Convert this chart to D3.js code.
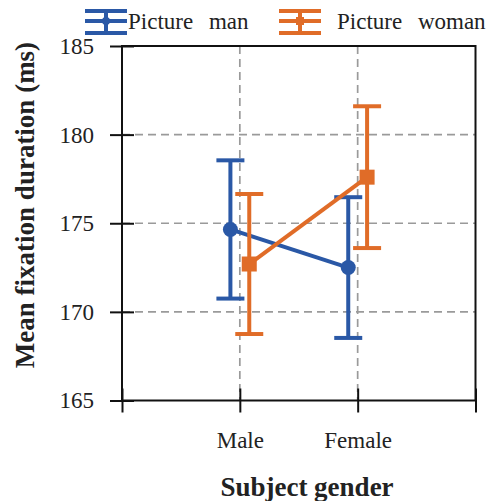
<!DOCTYPE html>
<html>
<head>
<meta charset="utf-8">
<script src="https://cdn.jsdelivr.net/npm/d3@7"></script>
<style>
  body { margin: 0; background: #fff; }
  text { font-family: "Liberation Serif", "DejaVu Serif", serif; fill: #222; }
</style>
</head>
<body>
<div id="chart"></div>
<script>
// data
const categories = ["Male", "Female"];
const seriesNames = ["Picture man", "Picture woman"];
const seriesColors = ["#2a58a6", "#e06c28"];
const manMeans = [174.65, 172.5];
const manErr = [3.9, 3.97];
const womanMeans = [172.7, 177.6];
const womanErr = [3.95, 4.0];
const yTicks = [165, 170, 175, 180, 185];

const W = 493, H = 501;
const plotL = 122, plotR = 475.5, plotT = 46, plotB = 400.5;

const svg = d3.select("#chart").append("svg")
    .attr("width", W)
    .attr("height", H);

// x: slot 0..3, categories sit on 1 and 2
const x = d3.scaleLinear().domain([0, 3]).range([plotL, plotR]);
const y = d3.scaleLinear().domain([165, 185]).range([plotB, plotT]);
const catPos = d => categories.indexOf(d) + 1;

// grid
const grid = svg.append("g")
    .attr("stroke", "#9a9a9a")
    .attr("stroke-width", 1.7)
    .attr("stroke-dasharray", "8,5");
grid.selectAll(".gy").data(yTicks.slice(1, -1)).enter().append("line")
    .attr("x1", plotL).attr("x2", plotR)
    .attr("y1", d => y(d)).attr("y2", d => y(d));
grid.selectAll(".gx").data(categories).enter().append("line")
    .attr("x1", d => x(catPos(d))).attr("x2", d => x(catPos(d)))
    .attr("y1", plotT).attr("y2", plotB);

// axes, ticks cross the spines
const yAxis = d3.axisLeft(y).tickValues(yTicks).tickSize(0).tickPadding(28);
const gy = svg.append("g").attr("transform", `translate(${plotL},0)`).call(yAxis)
    .attr("font-family", "'Liberation Serif', serif");
gy.select(".domain").remove();
gy.selectAll("text").attr("font-size", 23).attr("fill", "#222");
gy.selectAll(".tick").append("line")
    .attr("x1", -12).attr("x2", 12)
    .attr("stroke", "#111").attr("stroke-width", 2);

const xAxis = d3.axisBottom(x).tickValues([0, 1, 2, 3])
    .tickFormat(d => categories[d - 1] || "").tickSize(0).tickPadding(31);
const gx = svg.append("g").attr("transform", `translate(0,${plotB})`).call(xAxis)
    .attr("font-family", "'Liberation Serif', serif");
gx.select(".domain").remove();
gx.selectAll("text").attr("font-size", 23).attr("fill", "#222");
gx.selectAll(".tick").append("line")
    .attr("y1", -12).attr("y2", 12)
    .attr("stroke", "#111").attr("stroke-width", 2);

// frame
svg.append("rect")
    .attr("x", plotL).attr("y", plotT)
    .attr("width", plotR - plotL).attr("height", plotB - plotT)
    .attr("fill", "none").attr("stroke", "#111").attr("stroke-width", 2);

// axis titles
svg.append("text")
    .attr("x", 307).attr("y", 496)
    .attr("text-anchor", "middle")
    .attr("font-size", 27).attr("font-weight", "bold")
    .text("Subject gender");
svg.append("text")
    .attr("transform", "translate(34,205) rotate(-90)")
    .attr("text-anchor", "middle")
    .attr("font-size", 27).attr("font-weight", "bold")
    .text("Mean fixation duration (ms)");

// series
const series = [
    { name: seriesNames[0], color: seriesColors[0], means: manMeans, err: manErr, shift: -0.08, marker: "circle" },
    { name: seriesNames[1], color: seriesColors[1], means: womanMeans, err: womanErr, shift: 0.08, marker: "square" }
];

const capW = 14;
series.forEach(s => {
    const pts = categories.map((c, i) => ({
        px: x(catPos(c) + s.shift),
        m: s.means[i], e: s.err[i]
    }));
    const g = svg.append("g");
    // error bars
    pts.forEach(p => {
        g.append("line")
            .attr("x1", p.px).attr("x2", p.px)
            .attr("y1", y(p.m + p.e)).attr("y2", y(p.m - p.e))
            .attr("stroke", s.color).attr("stroke-width", 4);
        [p.m + p.e, p.m - p.e].forEach(v => {
            g.append("line")
                .attr("x1", p.px - capW).attr("x2", p.px + capW)
                .attr("y1", y(v)).attr("y2", y(v))
                .attr("stroke", s.color).attr("stroke-width", 4);
        });
    });
    // connecting line
    g.append("path")
        .datum(pts)
        .attr("fill", "none").attr("stroke", s.color).attr("stroke-width", 4)
        .attr("d", d3.line().x(p => p.px).y(p => y(p.m)));
    // markers
    if (s.marker === "circle") {
        g.selectAll("circle").data(pts).enter().append("circle")
            .attr("cx", p => p.px).attr("cy", p => y(p.m)).attr("r", 7.5)
            .attr("fill", s.color);
    } else {
        g.selectAll("rect").data(pts).enter().append("rect")
            .attr("x", p => p.px - 7.5).attr("y", p => y(p.m) - 7.5)
            .attr("width", 15).attr("height", 15)
            .attr("fill", s.color);
    }
});

// legend
const legX = [85, 279];
const legText = [128, 337];
series.forEach((s, i) => {
    const lg = svg.append("g").attr("transform", `translate(${legX[i]},0)`);
    const w = 42, cx = w / 2;
    [11, 33].forEach(yy => lg.append("line")
        .attr("x1", 0).attr("x2", w).attr("y1", yy).attr("y2", yy)
        .attr("stroke", s.color).attr("stroke-width", 4));
    lg.append("line").attr("x1", 0).attr("x2", w).attr("y1", 21).attr("y2", 21)
        .attr("stroke", s.color).attr("stroke-width", 4);
    lg.append("line").attr("x1", cx).attr("x2", cx).attr("y1", 11).attr("y2", 33)
        .attr("stroke", s.color).attr("stroke-width", 4);
    if (s.marker === "circle") {
        lg.append("circle").attr("cx", cx).attr("cy", 21).attr("r", 4).attr("fill", s.color);
    } else {
        lg.append("rect").attr("x", cx - 4).attr("y", 17).attr("width", 8).attr("height", 8).attr("fill", s.color);
    }
    svg.append("text")
        .attr("x", legText[i]).attr("y", 29)
        .attr("font-size", 23)
        .attr("word-spacing", 10)
        .text(s.name);
});
</script>
</body>
</html>
